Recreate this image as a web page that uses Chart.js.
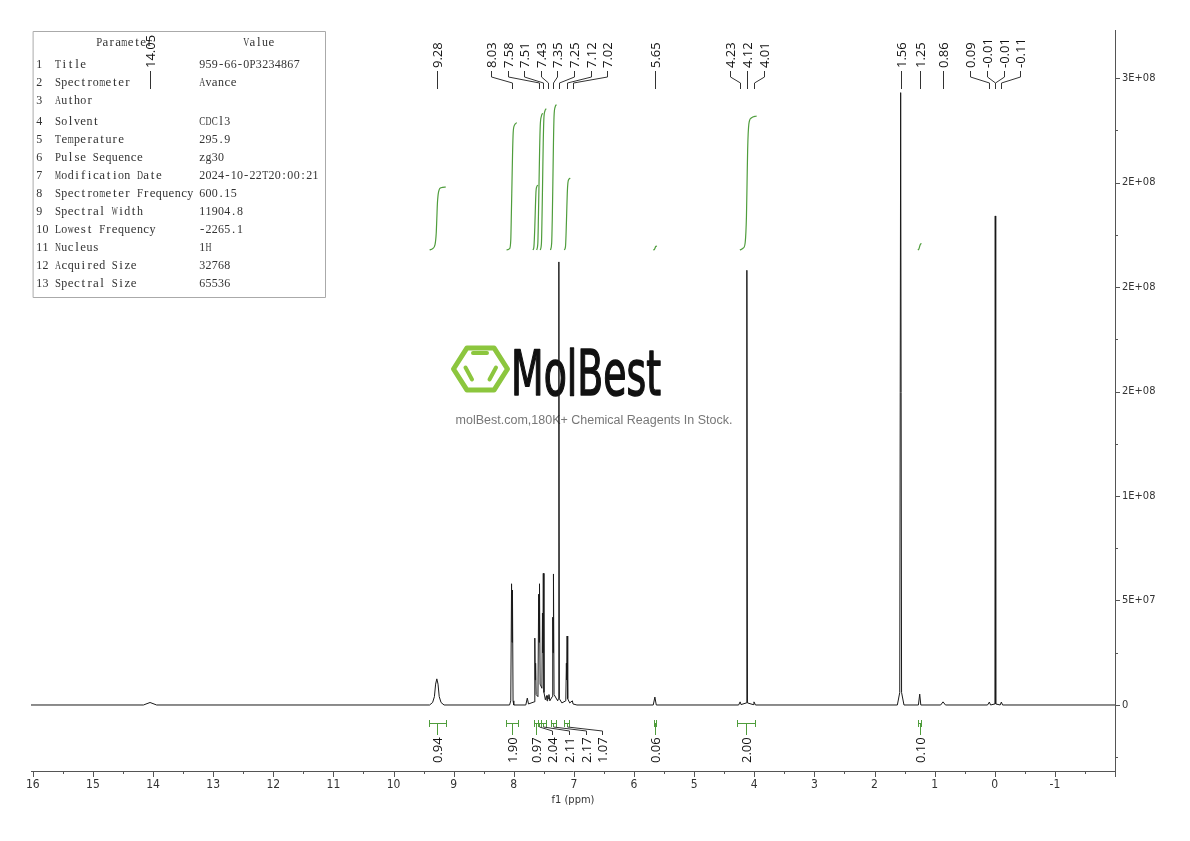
<!DOCTYPE html>
<html>
<head>
<meta charset="utf-8">
<title>1H NMR 959-66-0P3234867</title>
<script src="https://cdn.jsdelivr.net/npm/chart.js@4.4.1/dist/chart.umd.min.js"></script>
<style>
  html, body { margin: 0; padding: 0; background: #fff; }
</style>
</head>
<body>
<canvas id="nmr" width="1190" height="841"></canvas>
<script>
// spectrum points, ppm (descending) and intensity
const specPpm = [
  16.03, 14.16, 14.05, 13.94,
  9.40, 9.35, 9.32, 9.30, 9.28, 9.26, 9.24, 9.21, 9.16,
  8.07, 8.05, 8.037, 8.029, 8.022, 8.012, 8.00,
  7.80, 7.775, 7.755,
  7.66, 7.650, 7.643, 7.637, 7.628,
  7.598, 7.586, 7.579, 7.572, 7.562,
  7.532, 7.523, 7.516, 7.509, 7.498,
  7.475, 7.455, 7.447, 7.437, 7.425, 7.415, 7.40,
  7.36, 7.352, 7.346, 7.340, 7.330,
  7.27, 7.258, 7.250, 7.242, 7.20,
  7.135, 7.125, 7.12, 7.113, 7.103, 7.07,
  7.025, 7.015, 6.95,
  5.68, 5.653, 5.63,
  4.26, 4.235, 4.22, 4.13, 4.123, 4.113, 4.02, 4.005, 3.98,
  1.62, 1.58, 1.565, 1.55, 1.51,
  1.27, 1.248, 1.23,
  0.90, 0.86, 0.82,
  0.12, 0.09, 0.07,
  -0.003, -0.008, -0.016,
  -0.09, -0.11, -0.13,
  -2.0
];
const specInt = [
  0, 0, 1.2e6, 0,
  0, 1.2e6, 4e6, 10e6, 12.5e6, 10e6, 4e6, 1.2e6, 0,
  0, 2e6, 58e6, 30e6, 55e6, 2e6, 0,
  0, 3.3e6, 0.5e6,
  1.5e6, 32e6, 12e6, 20e6, 5e6,
  4e6, 53e6, 30e6, 58e6, 10e6,
  8e6, 44e6, 25e6, 63e6, 6e6,
  2.5e6, 4.5e6, 2e6, 4.5e6, 3e6, 5e6, 2e6,
  4e6, 42e6, 25e6, 62.7e6, 5e6,
  2e6, 3e6, 212e6, 3e6, 1e6,
  2e6, 20e6, 12e6, 33e6, 3e6, 1e6,
  2e6, 0.5e6, 0,
  0, 3.8e6, 0,
  0, 1.5e6, 0.2e6, 1e6, 208e6, 1e6, 0.2e6, 1.5e6, 0,
  0, 6e6, 293e6, 6e6, 0,
  0, 5.2e6, 0,
  0, 1.5e6, 0,
  0, 1.4e6, 0,
  0.5e6, 234e6, 0.5e6,
  0, 1.4e6, 0,
  0
];

// picked peaks
const peakLabelPpm = [14.05, 9.28, 8.03, 7.58, 7.51, 7.43, 7.35, 7.25, 7.12, 7.02, 5.65,
  4.23, 4.12, 4.01, 1.56, 1.25, 0.86, 0.09, -0.01, -0.01, -0.11];

// integrals: range and value
const intFrom = [9.41, 8.13, 7.67, 7.60, 7.55, 7.38, 7.16, 5.67, 4.28, 1.27];
const intTo   = [9.13, 7.93, 7.60, 7.55, 7.47, 7.30, 7.08, 5.63, 3.98, 1.23];
const intVal  = [0.94, 1.90, 0.97, 2.04, 2.11, 2.17, 1.07, 0.06, 2.00, 0.10];

// integral curves (ppm, running integral in H)
const intCurvePpm = [
  [9.40, 9.35, 9.31, 9.29, 9.28, 9.27, 9.25, 9.21, 9.13],
  [8.12, 8.07, 8.05, 8.04, 8.03, 8.02, 8.01, 7.99, 7.95],
  [7.68, 7.665, 7.65, 7.64, 7.63, 7.615, 7.60],
  [7.62, 7.60, 7.59, 7.58, 7.57, 7.56, 7.54, 7.52],
  [7.56, 7.54, 7.53, 7.52, 7.51, 7.50, 7.48, 7.46],
  [7.39, 7.37, 7.36, 7.35, 7.34, 7.33, 7.31, 7.29],
  [7.16, 7.14, 7.13, 7.12, 7.11, 7.10, 7.08, 7.06],
  [5.68, 5.66, 5.65, 5.64, 5.62],
  [4.24, 4.18, 4.15, 4.13, 4.12, 4.11, 4.09, 4.05, 3.96],
  [1.28, 1.26, 1.25, 1.24, 1.22]
];
const intCurveH = [
  [0, 0.02, 0.08, 0.25, 0.47, 0.70, 0.87, 0.93, 0.94],
  [0, 0.02, 0.15, 0.55, 1.00, 1.45, 1.75, 1.86, 1.90],
  [0, 0.05, 0.35, 0.65, 0.88, 0.95, 0.97],
  [0, 0.10, 0.50, 1.00, 1.50, 1.85, 2.00, 2.04],
  [0, 0.10, 0.50, 1.05, 1.60, 1.95, 2.08, 2.11],
  [0, 0.10, 0.45, 1.00, 1.60, 2.00, 2.14, 2.17],
  [0, 0.05, 0.25, 0.55, 0.85, 1.00, 1.06, 1.07],
  [0, 0.01, 0.03, 0.05, 0.06],
  [0, 0.03, 0.12, 0.50, 1.00, 1.50, 1.88, 1.97, 2.00],
  [0, 0.02, 0.05, 0.08, 0.10]
];

// axes
const xTickVals = [16, 15, 14, 13, 12, 11, 10, 9, 8, 7, 6, 5, 4, 3, 2, 1, 0, -1];
const yTickVals = [0, 5e7, 1e8, 1.5e8, 2e8, 2.5e8, 3e8];
const yTickLabels = ['0', '5E+07', '1E+08', '2E+08', '2E+08', '2E+08', '3E+08'];

// parameter table
const paramNames = ['Title', 'Spectrometer', 'Author', 'Solvent', 'Temperature', 'Pulse Sequence',
  'Modification Date', 'Spectrometer Frequency', 'Spectral Width', 'Lowest Frequency',
  'Nucleus', 'Acquired Size', 'Spectral Size'];
const paramValues = ['959-66-0P3234867', 'Avance', '', 'CDCl3', '295.9', 'zg30',
  '2024-10-22T20:00:21', '600.15', '11904.8', '-2265.1', '1H', '32768', '65536'];

const condensed = "'Liberation Sans Narrow', 'DejaVu Sans Condensed', 'Arial Narrow', sans-serif";
const green = '#4f9d3c';

function spreadCentered(ideal, gap) {
  const groups = ideal.map((x, i) => ({ ids: [i] }));
  const place = g => {
    const m = g.ids.reduce((s, i) => s + ideal[i], 0) / g.ids.length;
    return g.ids.map((id, k) => m + (k - (g.ids.length - 1) / 2) * gap);
  };
  let merged = true;
  while (merged) {
    merged = false;
    for (let i = 0; i < groups.length - 1; i++) {
      const a = place(groups[i]), b = place(groups[i + 1]);
      if (b[0] - a[a.length - 1] < gap) {
        groups[i].ids = groups[i].ids.concat(groups[i + 1].ids);
        groups.splice(i + 1, 1);
        merged = true;
        break;
      }
    }
  }
  const out = [];
  groups.forEach(g => place(g).forEach((x, k) => { out[g.ids[k]] = x; }));
  return out;
}

function drawMono(ctx, str, x, y, adv) {
  for (let k = 0; k < str.length; k++) {
    const ch = str[k];
    if (ch === ' ') continue;
    const w = ctx.measureText(ch).width;
    const cx = x + adv * (k + 0.5);
    if (w > adv * 0.95) {
      ctx.save();
      ctx.translate(cx, y);
      ctx.scale(adv * 0.95 / w, 1);
      ctx.fillText(ch, 0, 0);
      ctx.restore();
    } else {
      ctx.fillText(ch, cx, y);
    }
  }
}

const decorPlugin = {
  id: 'decor',
  beforeDatasetsDraw(chart) {
    const ctx = chart.ctx;
    ctx.save();

    // watermark logo
    const cx = 480.5, cy = 369, r = 27;
    ctx.strokeStyle = '#8cc63e';
    ctx.lineWidth = 5;
    ctx.lineJoin = 'round';
    ctx.beginPath();
    for (let k = 0; k < 6; k++) {
      const a = k * Math.PI / 3;
      const px = cx + r * Math.cos(a), py = cy + r * Math.sin(a) * 0.9;
      if (k === 0) ctx.moveTo(px, py); else ctx.lineTo(px, py);
    }
    ctx.closePath();
    ctx.stroke();
    ctx.lineWidth = 4;
    ctx.lineCap = 'round';
    ctx.beginPath();
    ctx.moveTo(473, 353); ctx.lineTo(487, 353);
    ctx.moveTo(465.5, 367.5); ctx.lineTo(472, 379.5);
    ctx.moveTo(496, 367.5); ctx.lineTo(489.5, 379.5);
    ctx.stroke();

    ctx.fillStyle = '#111';
    ctx.strokeStyle = '#111';
    ctx.lineWidth = 1.4;
    ctx.font = "60px " + condensed;
    ctx.textBaseline = 'alphabetic';
    ctx.textAlign = 'left';
    const w = ctx.measureText('MolBest').width;
    ctx.save();
    ctx.translate(511, 395);
    ctx.scale(150 / w, 1.04);
    ctx.fillText('MolBest', 0, 0);
    ctx.strokeText('MolBest', 0, 0);
    ctx.restore();

    ctx.fillStyle = '#777';
    ctx.font = "12.5px 'Liberation Sans', Arial, sans-serif";
    ctx.textAlign = 'center';
    ctx.textBaseline = 'middle';
    ctx.fillText('molBest.com,180K+ Chemical Reagents In Stock.', 594, 421);

    // parameter table
    ctx.fillStyle = '#fff';
    ctx.fillRect(33.5, 31.5, 292, 266);
    ctx.strokeStyle = '#aaa';
    ctx.lineWidth = 1;
    ctx.strokeRect(33.5, 31.5, 292, 266);
    ctx.fillStyle = '#333';
    ctx.font = "13px 'Liberation Serif', 'DejaVu Serif', serif";
    ctx.textAlign = 'center';
    ctx.textBaseline = 'middle';
    const adv = 6.3;
    drawMono(ctx, 'Parameter', 96, 43, adv);
    drawMono(ctx, 'Value', 243, 43, adv);
    paramNames.forEach((name, i) => {
      const y = 65 + i * 18 + (i >= 3 ? 3 : 0);
      drawMono(ctx, String(i + 1).padEnd(2) + ' ' + name, 36, y, adv);
      drawMono(ctx, paramValues[i], 199, y, adv);
    });
    ctx.restore();
  },
  afterDraw(chart) {
    const ctx = chart.ctx;
    const xs = chart.scales.x, ys = chart.scales.y;
    const area = chart.chartArea;
    ctx.save();
    ctx.strokeStyle = '#555';
    ctx.lineWidth = 1;

    // axis tick marks
    ctx.beginPath();
    for (let k = -4; k <= 32; k++) {
      const px = Math.round(xs.getPixelForValue(k / 2)) + 0.5;
      if (px < area.left - 1 || px > area.right + 1) continue;
      const len = k % 2 === 0 ? 6 : 3;
      ctx.moveTo(px, area.bottom);
      ctx.lineTo(px, area.bottom + len);
    }
    for (let k = -1; k <= 12; k++) {
      const py = Math.round(ys.getPixelForValue(k * 2.5e7)) + 0.5;
      const len = k % 2 === 0 ? 5 : 3;
      ctx.moveTo(area.right, py);
      ctx.lineTo(area.right + len, py);
    }
    ctx.stroke();

    // peak labels
    ctx.font = "13px 'Open Sans', 'DejaVu Sans', sans-serif";
    ctx.fillStyle = '#111';
    ctx.strokeStyle = '#333';
    ctx.textAlign = 'left';
    ctx.textBaseline = 'middle';
    const ideal = peakLabelPpm.map(p => xs.getPixelForValue(p));
    const pos = spreadCentered(ideal, 16.6);
    peakLabelPpm.forEach((p, i) => {
      const lx = Math.round(pos[i]) + 0.5, px = Math.round(ideal[i]) + 0.5;
      ctx.save();
      ctx.translate(lx, 68);
      ctx.rotate(-Math.PI / 2);
      ctx.fillText(p.toFixed(2), 0, 0.5);
      ctx.restore();
      ctx.beginPath();
      ctx.moveTo(lx, 71);
      ctx.lineTo(lx, 77);
      ctx.lineTo(px, 83);
      ctx.lineTo(px, 89);
      ctx.stroke();
    });

    // integral brackets and labels
    const iIdeal = intFrom.map((f, i) => xs.getPixelForValue((f + intTo[i]) / 2));
    let prev = -Infinity;
    const iPos = iIdeal.map(x => { const v = Math.max(x, prev + 16.6); prev = v; return v; });
    intVal.forEach((v, i) => {
      const x1 = Math.round(xs.getPixelForValue(intFrom[i])) + 0.5;
      const x2 = Math.round(xs.getPixelForValue(intTo[i])) + 0.5;
      const xc = Math.round(iIdeal[i]) + 0.5, lx = Math.round(iPos[i]) + 0.5;
      ctx.strokeStyle = green;
      ctx.beginPath();
      ctx.moveTo(x1, 723.5); ctx.lineTo(x2, 723.5);
      ctx.moveTo(x1, 720); ctx.lineTo(x1, 727);
      ctx.moveTo(x2, 720); ctx.lineTo(x2, 727);
      ctx.moveTo(xc, 723.5); ctx.lineTo(xc, 727);
      if (lx === xc) ctx.lineTo(xc, 735);
      ctx.stroke();
      if (lx !== xc) {
        ctx.strokeStyle = '#333';
        ctx.beginPath();
        ctx.moveTo(xc, 727); ctx.lineTo(lx, 731); ctx.lineTo(lx, 735);
        ctx.stroke();
      }
      ctx.save();
      ctx.translate(lx, 763);
      ctx.rotate(-Math.PI / 2);
      ctx.fillText(v.toFixed(2), 0, 0.5);
      ctx.restore();
    });
    ctx.restore();
  }
};

const datasets = [{
  label: 'spectrum',
  data: specPpm.map((p, i) => ({ x: p, y: specInt[i] })),
  borderColor: '#1a1a1a',
  borderWidth: 1,
  pointRadius: 0,
  tension: 0,
  yAxisID: 'y'
}];
intCurvePpm.forEach((ppms, j) => {
  datasets.push({
    label: 'integral ' + intVal[j],
    data: ppms.map((p, i) => ({ x: p, y: intCurveH[j][i] })),
    borderColor: green,
    borderWidth: 1.2,
    pointRadius: 0,
    cubicInterpolationMode: 'monotone',
    yAxisID: 'yI'
  });
});

const pxPerH = 67;
new Chart(document.getElementById('nmr').getContext('2d'), {
  type: 'line',
  data: { datasets },
  options: {
    responsive: false,
    animation: false,
    devicePixelRatio: 1,
    layout: { padding: { left: 31, top: 30, right: 0, bottom: 30 } },
    plugins: { legend: { display: false }, tooltip: { enabled: false } },
    scales: {
      x: {
        type: 'linear',
        reverse: true,
        min: -2.0,
        max: 16.03,
        grid: { display: false, drawTicks: false },
        border: { display: true, color: '#555', width: 1 },
        afterBuildTicks: s => { s.ticks = xTickVals.map(v => ({ value: v })); },
        afterFit: s => { s.height = 40; },
        ticks: {
          autoSkip: false,
          maxRotation: 0,
          padding: 7,
          color: '#333',
          font: { family: condensed, size: 12 },
          callback: v => String(v)
        },
        title: {
          display: true,
          text: 'f1 (ppm)',
          color: '#333',
          font: { family: condensed, size: 11 },
          padding: { top: 0, bottom: 4 }
        }
      },
      y: {
        position: 'right',
        min: -3.158e7,
        max: 3.2297e8,
        grid: { display: false, drawTicks: false },
        border: { display: true, color: '#555', width: 1 },
        afterBuildTicks: s => { s.ticks = yTickVals.map(v => ({ value: v })); },
        afterFit: s => { s.width = 75; },
        ticks: {
          padding: 7,
          color: '#333',
          font: { family: condensed, size: 11 },
          callback: v => yTickLabels[yTickVals.indexOf(v)]
        }
      },
      yI: {
        display: false,
        min: -(771 - 250) / pxPerH,
        max: (250 - 30) / pxPerH
      }
    }
  },
  plugins: [decorPlugin]
});
</script>
</body>
</html>
